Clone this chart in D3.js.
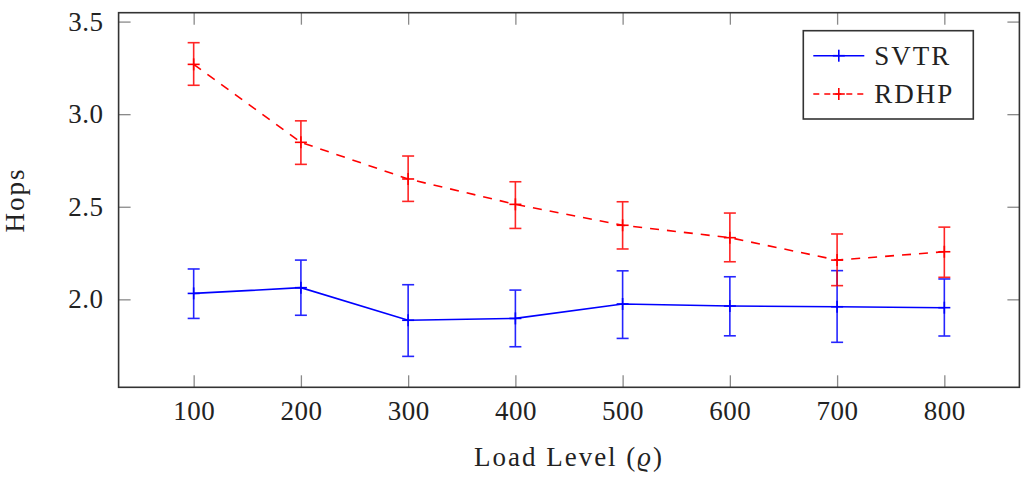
<!DOCTYPE html>
<html>
<head>
<meta charset="utf-8">
<script src="https://cdn.jsdelivr.net/npm/d3@7"></script>
<style>
body { margin: 0; background: #fff; }
</style>
</head>
<body>
<div id="mainchart"></div>
<script>
var loads = [100, 200, 300, 400, 500, 600, 700, 800];
var xTicks = [100, 200, 300, 400, 500, 600, 700, 800];
var yTicks = [2.0, 2.5, 3.0, 3.5];

var svtrMean = [2.032, 2.063, 1.887, 1.897, 1.975, 1.964, 1.960, 1.955];
var svtrLow  = [1.897, 1.914, 1.692, 1.744, 1.789, 1.803, 1.768, 1.802];
var svtrHigh = [2.164, 2.212, 2.079, 2.050, 2.154, 2.122, 2.155, 2.110];

var rdhpMean = [3.269, 2.848, 2.650, 2.513, 2.400, 2.333, 2.212, 2.257];
var rdhpLow  = [3.156, 2.729, 2.529, 2.383, 2.272, 2.203, 2.074, 2.119];
var rdhpHigh = [3.386, 2.964, 2.774, 2.635, 2.527, 2.466, 2.353, 2.390];

var width = 1021, height = 478;
var margin = {top: 12.7, right: 1.6, bottom: 90.7, left: 118.6};
var w = width - margin.left - margin.right,
    h = height - margin.top - margin.bottom;
var fontSize = 27;
var serif = "'Liberation Serif', 'DejaVu Serif', 'Times New Roman', Times, serif";

var svg = d3.select("#mainchart").append("svg")
  .attr("width", width).attr("height", height)
  .style("font-family", serif)
  .append("g").attr("transform", "translate(" + margin.left + "," + margin.top + ")");

var x = d3.scaleLinear().domain([30, 870]).range([0, w]);
var y = d3.scaleLinear().domain([1.525, 3.548]).range([h, 0]);

function styleAxis(g) {
  g.attr("font-family", null).attr("font-size", null);
  g.select(".domain").remove();
  g.selectAll(".tick line").attr("stroke", "#8a8a8a").attr("stroke-width", 1.3);
  g.selectAll(".tick text").style("font-family", serif).style("font-size", fontSize + "px")
    .style("letter-spacing", "0.5px").attr("fill", "#222");
}

svg.append("g").attr("transform", "translate(0," + h + ")")
  .call(d3.axisBottom(x).tickValues(xTicks).tickSizeInner(-12).tickSizeOuter(0).tickPadding(14).tickFormat(d3.format("d")))
  .call(styleAxis);
svg.append("g")
  .call(d3.axisTop(x).tickValues(xTicks).tickSizeInner(-12).tickSizeOuter(0).tickFormat(""))
  .call(styleAxis);
svg.append("g")
  .call(d3.axisLeft(y).tickValues(yTicks).tickSizeInner(-12).tickSizeOuter(0).tickPadding(15).tickFormat(d3.format(".1f")))
  .call(styleAxis);
svg.append("g").attr("transform", "translate(" + w + ",0)")
  .call(d3.axisRight(y).tickValues(yTicks).tickSizeInner(-12).tickSizeOuter(0).tickFormat(""))
  .call(styleAxis);

svg.append("rect").attr("width", w).attr("height", h)
  .attr("fill", "none").attr("stroke", "#333").attr("stroke-width", 1.6);

var series = [
  {name: "SVTR", color: "#0000ff", dash: null, mean: svtrMean, low: svtrLow, high: svtrHigh},
  {name: "RDHP", color: "#ff0000", dash: "9,8", mean: rdhpMean, low: rdhpLow, high: rdhpHigh}
];

var line = d3.line().x(function(d) { return x(d.x); }).y(function(d) { return y(d.y); });
var cap = 6, mk = 6;

series.forEach(function(s) {
  var pts = loads.map(function(l, i) { return {x: l, y: s.mean[i], lo: s.low[i], hi: s.high[i]}; });
  var g = svg.append("g");

  g.append("path").datum(pts)
    .attr("fill", "none").attr("stroke", s.color).attr("stroke-width", 1.6)
    .attr("stroke-dasharray", s.dash).attr("d", line);

  var eb = g.selectAll("g.err").data(pts).enter().append("g").attr("class", "err")
    .attr("stroke", s.color).attr("stroke-width", 1.6).attr("opacity", 0.85);
  eb.append("line").attr("x1", d => x(d.x)).attr("x2", d => x(d.x)).attr("y1", d => y(d.lo)).attr("y2", d => y(d.hi));
  eb.append("line").attr("x1", d => x(d.x) - cap).attr("x2", d => x(d.x) + cap).attr("y1", d => y(d.lo)).attr("y2", d => y(d.lo));
  eb.append("line").attr("x1", d => x(d.x) - cap).attr("x2", d => x(d.x) + cap).attr("y1", d => y(d.hi)).attr("y2", d => y(d.hi));

  var mks = g.selectAll("g.mk").data(pts).enter().append("g").attr("class", "mk")
    .attr("stroke", s.color).attr("stroke-width", 1.6);
  mks.append("line").attr("x1", d => x(d.x) - mk).attr("x2", d => x(d.x) + mk).attr("y1", d => y(d.y)).attr("y2", d => y(d.y));
  mks.append("line").attr("x1", d => x(d.x)).attr("x2", d => x(d.x)).attr("y1", d => y(d.y) - mk).attr("y2", d => y(d.y) + mk);
});

// legend
var lg = svg.append("g").attr("transform", "translate(" + (803.3 - margin.left) + "," + (30.7 - margin.top) + ")");
lg.append("rect").attr("width", 170).attr("height", 88.3)
  .attr("fill", "#fff").attr("stroke", "#333").attr("stroke-width", 1.6);
series.forEach(function(s, i) {
  var ly = 25 + i * 38.3;
  lg.append("line").attr("x1", 10).attr("x2", 61).attr("y1", ly).attr("y2", ly)
    .attr("stroke", s.color).attr("stroke-width", 1.6).attr("stroke-dasharray", s.dash ? "6,5" : null);
  lg.append("line").attr("x1", 35.5 - mk).attr("x2", 35.5 + mk).attr("y1", ly).attr("y2", ly)
    .attr("stroke", s.color).attr("stroke-width", 1.6);
  lg.append("line").attr("x1", 35.5).attr("x2", 35.5).attr("y1", ly - mk).attr("y2", ly + mk)
    .attr("stroke", s.color).attr("stroke-width", 1.6);
  lg.append("text").attr("x", 71).attr("y", ly + 9).attr("fill", "#222")
    .style("font-family", serif).style("font-size", fontSize + "px").style("letter-spacing", "2px").text(s.name);
});

// axis titles
svg.append("text").attr("x", w / 2).attr("y", h + 79).attr("fill", "#222")
  .attr("text-anchor", "middle").style("font-family", serif).style("font-size", fontSize + "px")
  .style("letter-spacing", "2px")
  .html('Load Level (<tspan font-style="italic">ϱ</tspan>)');
svg.append("text").attr("fill", "#222")
  .attr("transform", "translate(" + (24 - margin.left) + "," + (h / 2) + ") rotate(-90)")
  .attr("text-anchor", "middle").style("font-family", serif).style("font-size", fontSize + "px")
  .style("letter-spacing", "2px").text("Hops");
</script>
</body>
</html>
